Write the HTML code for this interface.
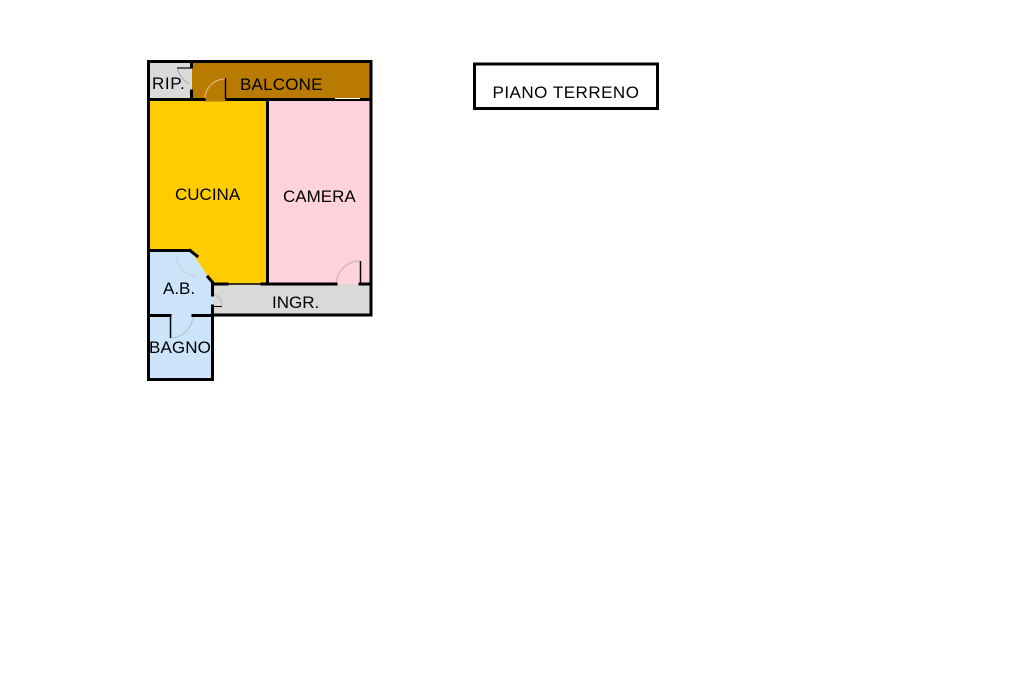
<!DOCTYPE html>
<html><head><meta charset="utf-8"><style>
html,body{margin:0;padding:0;background:#fff;}
svg{display:block;}
text{font-family:"Liberation Sans",Arial,sans-serif;font-size:17px;fill:#000;}
</style></head><body>
<svg width="1024" height="682" viewBox="0 0 1024 682" xmlns="http://www.w3.org/2000/svg">
<rect width="1024" height="682" fill="#fff"/>
<!-- fills -->
<rect x="150" y="62" width="42" height="37" fill="#dadada"/>
<rect x="192" y="62" width="179" height="37" fill="#b97a00"/>
<polygon points="150,100 268,100 268,284 213,284 191,251 150,251" fill="#ffcc00"/>
<rect x="268" y="100" width="103" height="184" fill="#ffd2dc"/>
<rect x="213" y="284" width="158" height="31" fill="#d9d9d9"/>
<polygon points="150,251 191,251 213,284 213,379 150,379" fill="#cce4f9"/>
<rect x="204" y="97" width="22" height="4.5" fill="#b97a00"/>
<!-- door arcs -->
<g fill="none" stroke="#d8d8d8" stroke-width="1.2">
<path d="M205,99 A20,20 0 0 1 225,79" stroke="#d9b87a"/>
<path d="M177,256 A20,20 0 0 0 196,276" stroke="#c8d2dc"/>
<path d="M170,338 A23,23 0 0 0 193,315" stroke="#b8c4d0"/>
<path d="M336,284 A24,24 0 0 1 360,261" stroke="#c8b4ba"/>
<path d="M214,295 A9,10 0 0 1 222,306" stroke="#bbbbbb"/>
<path d="M177,68 Q180,78 189,84" stroke="#b0b0b0"/>
</g>
<!-- walls -->
<g stroke="#000" stroke-width="3" fill="none" stroke-linecap="square">
<polyline points="148.5,61.5 371,61.5 371,315 213,315"/>
<line x1="148.5" y1="61.5" x2="148.5" y2="379.5"/>
<line x1="148.5" y1="379.5" x2="212.5" y2="379.5"/>
<line x1="212.5" y1="379.5" x2="212.5" y2="306"/>
<line x1="212.5" y1="295" x2="212.5" y2="284"/>
<line x1="148.5" y1="99.5" x2="204" y2="99.5"/>
<line x1="227" y1="99.5" x2="371" y2="99.5"/>
<line x1="191.5" y1="62" x2="191.5" y2="67"/>
<line x1="191.5" y1="91" x2="191.5" y2="98"/>
<line x1="267.5" y1="100" x2="267.5" y2="284"/>
<line x1="148.5" y1="250.5" x2="190" y2="250.5"/>
<line x1="190" y1="250.5" x2="197" y2="256"/>
<line x1="208" y1="277" x2="214" y2="284"/>
<line x1="212.5" y1="284" x2="227" y2="284"/>
<line x1="262" y1="284" x2="336" y2="284"/>
<line x1="360" y1="284" x2="371" y2="284"/>
<line x1="148.5" y1="315.5" x2="170" y2="315.5"/>
<line x1="193" y1="315.5" x2="212.5" y2="315.5"/>
</g>
<g stroke="#000" fill="none">
<line x1="227" y1="284" x2="262" y2="284" stroke-width="1.5"/>
<line x1="225.5" y1="78" x2="225.5" y2="99" stroke-width="1.5"/>
<line x1="360.5" y1="261" x2="360.5" y2="284" stroke-width="1.5"/>
<line x1="170.5" y1="316" x2="170.5" y2="338" stroke-width="1.5"/>
<line x1="177" y1="68" x2="192" y2="68" stroke-width="1.2"/>
<line x1="213" y1="306.5" x2="222" y2="306.5" stroke-width="1"/>
</g>
<line x1="335" y1="98.5" x2="360" y2="98.5" stroke="#fff" stroke-width="1"/>
<!-- labels -->
<text x="152" y="89" style="letter-spacing:0.6px">RIP.</text>
<text x="240" y="90" style="letter-spacing:0.2px">BALCONE</text>
<text x="175" y="200">CUCINA</text>
<text x="283" y="202">CAMERA</text>
<text x="163" y="294">A.B.</text>
<text x="272" y="308">INGR.</text>
<text x="149" y="353" style="letter-spacing:0.1px">BAGNO</text>
<!-- title box -->
<rect x="474.5" y="64" width="183" height="44.5" fill="#fff" stroke="#000" stroke-width="3"/>
<text x="492.5" y="98" style="letter-spacing:0.5px">PIANO TERRENO</text>
</svg>
</body></html>
